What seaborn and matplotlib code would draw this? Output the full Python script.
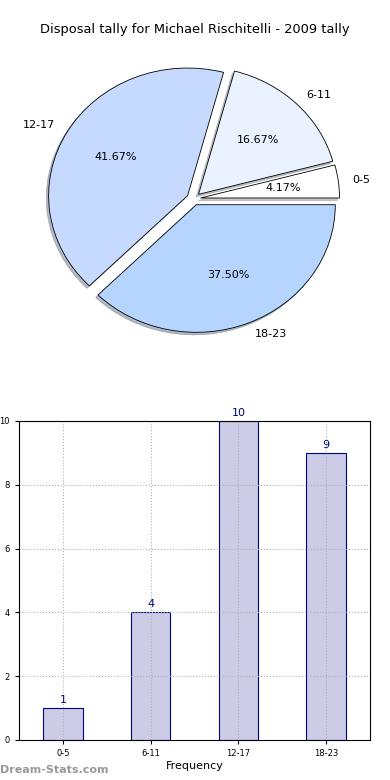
import numpy as np
import pandas as pd
import matplotlib
matplotlib.use("Agg")
import matplotlib.pyplot as plt
import seaborn as sns

# Data
groups = ["0-5", "6-11", "12-17", "18-23"]
tally = [1, 4, 10, 9]
pie_colors = ["#ffffff", "#eaf1ff", "#c6d9ff", "#b5d5ff"]

sns.set_style("white")
plt.rcParams["font.family"] = ["DejaVu Sans"]
plt.rcParams["text.color"] = "black"
plt.rcParams["xtick.color"] = "black"
plt.rcParams["ytick.color"] = "black"
plt.rcParams["axes.labelcolor"] = "black"

fig = plt.figure(figsize=(3.9, 7.8), dpi=100)

# Pie chart (top)
ax1 = fig.add_axes([0.051, 0.5406, 0.891, 0.409])
wedges, texts, autotexts = ax1.pie(
    tally,
    labels=groups,
    colors=pie_colors,
    explode=[0.05] * len(tally),
    autopct="%.2f%%",
    shadow={"ox": -0.012, "oy": -0.014, "shade": 0.45},
    startangle=0,
    counterclock=True,
    wedgeprops={"edgecolor": "black", "linewidth": 0.6},
    textprops={"fontsize": 8},
)
ax1.set_aspect("auto")
ax1.set_xlim(-1.25, 1.25)
ax1.set_ylim(-1.25, 1.25)
ax1.axis("off")

fig.text(0.5, 1 - 30 / 780, "Disposal tally for Michael Rischitelli - 2009 tally",
         ha="center", va="center", fontsize=9.4)

# Bar chart (bottom)
ax2 = fig.add_axes([0.0487, 0.0513, 0.9, 0.409])
df = pd.DataFrame({"group": groups, "tally": tally})
sns.barplot(data=df, x="group", y="tally", color="#ccccE6", edgecolor="#000080",
            linewidth=0.8, width=0.45, saturation=1, ax=ax2)
ax2.set_xlim(-0.5, 3.5)
ax2.set_ylim(0, 10)
ax2.set_yticks([0, 2, 4, 6, 8, 10])
ax2.set_axisbelow("line")
ax2.grid(True, linestyle=":", color="#b0b0b0", linewidth=0.8)
for bar in ax2.patches:
    bar.set_zorder(1)
ax2.tick_params(labelsize=6, length=3, direction="out", left=True, bottom=True)
ax2.set_xlabel("Frequency", fontsize=8, labelpad=2)
ax2.set_ylabel("")
for s in ax2.spines.values():
    s.set_color("black")
    s.set_linewidth(0.8)
    s.set_zorder(3)
for i, v in enumerate(tally):
    ax2.text(i, v + 0.1, str(v), ha="center", va="bottom", color="#000080", fontsize=8)

fig.text(-0.012, 0.255, "Disposal Tally", rotation=90, ha="center", va="center", fontsize=7)
fig.text(0.0, 1 - 770 / 780, "Dream-Stats.com", ha="left", va="center",
         fontsize=8, color="#999999", fontweight="bold")

fig.savefig("out.png", dpi=100)
